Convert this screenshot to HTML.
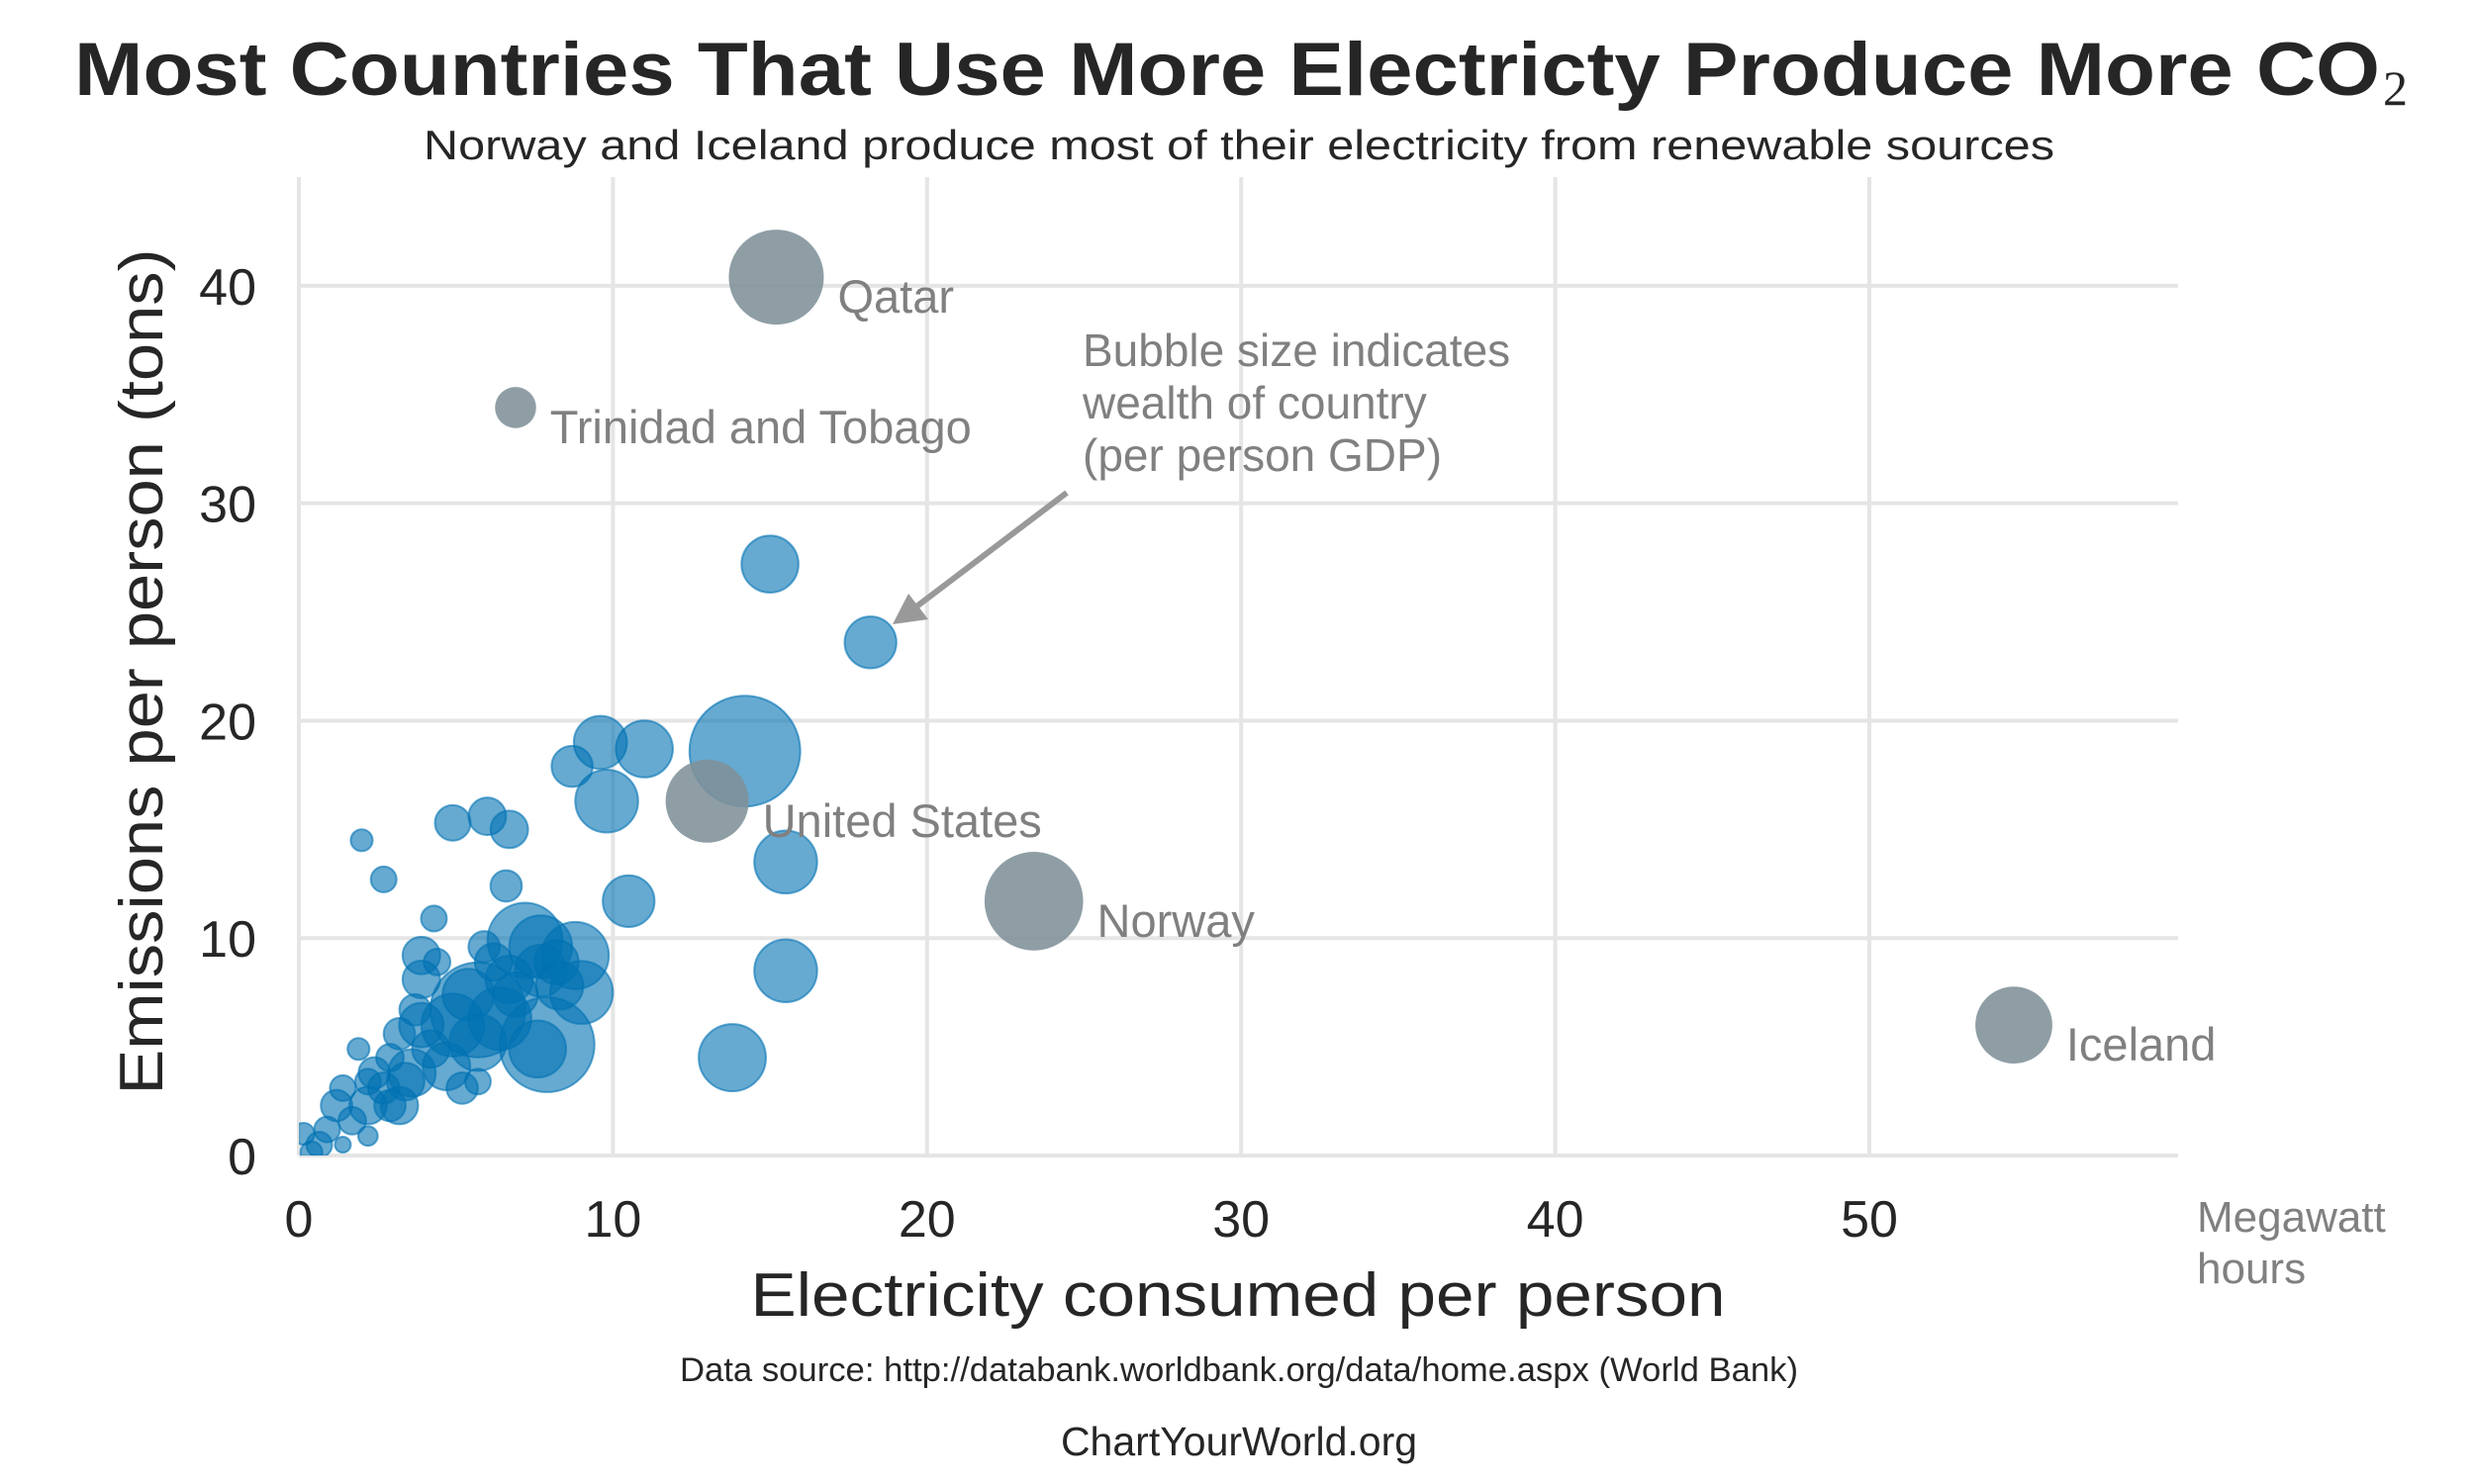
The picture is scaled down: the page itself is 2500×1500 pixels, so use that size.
<!DOCTYPE html>
<html><head><meta charset="utf-8">
<style>
html,body{margin:0;padding:0;background:#fff;}
svg{display:block;font-family:"Liberation Sans",Arial,sans-serif;}
</style></head>
<body>
<svg id="chart" width="2500" height="1500" viewBox="0 0 2500 1500" xmlns="http://www.w3.org/2000/svg">
<text x="75" y="96" font-size="76" font-weight="bold" fill="#262626" textLength="2330" lengthAdjust="spacingAndGlyphs">Most Countries That Use More Electricty Produce More CO</text>
<text x="2408" y="106" font-size="50" fill="#262626" font-family="Liberation Serif, serif">2</text>
<text x="428" y="161" font-size="42" fill="#262626" textLength="1648" lengthAdjust="spacingAndGlyphs">Norway and Iceland produce most of their electricity from renewable sources</text>
<g id="grid"></g>
<g id="ticks"></g>
<g id="bubbles"></g>
<g id="labels"></g>
<text x="1251" y="1330" font-size="62" fill="#262626" text-anchor="middle" textLength="985" lengthAdjust="spacingAndGlyphs">Electricity consumed per person</text>
<text transform="translate(164,679) rotate(-90)" font-size="62" fill="#262626" text-anchor="middle" textLength="855" lengthAdjust="spacingAndGlyphs">Emissions per person (tons)</text>
<text font-size="44" fill="#808080"><tspan x="2220" y="1245">Megawatt</tspan><tspan x="2220" y="1297">hours</tspan></text>
<g>
<text font-size="46" fill="#808080"><tspan x="1094" y="370">Bubble size indicates</tspan><tspan x="1094" y="423">wealth of country</tspan><tspan x="1094" y="476">(per person GDP)</tspan></text>
<line x1="1078" y1="498" x2="925" y2="614" stroke="#999" stroke-width="6"/>
<polygon points="902,631 918,600 938,626" fill="#999"/>
</g>
<text x="1252" y="1396" font-size="34" fill="#262626" text-anchor="middle" textLength="1130" lengthAdjust="spacingAndGlyphs">Data source: http://databank.worldbank.org/data/home.aspx (World Bank)</text>
<text x="1252" y="1471" font-size="41" fill="#262626" text-anchor="middle">ChartYourWorld.org</text>
</svg>
<script>
const elec = [15.0,18.2,14.2,9.6,11.0,8.7,9.8,4.9,6.0,6.7,2.0,2.7,6.6,10.5,15.5,15.5,13.8,8.8,7.2,9.0,7.9,7.6,5.7,7.7,
6.2,6.7,5.7,4.9,4.2,5.2,3.7,3.9,4.4,3.6,3.2,2.7,2.2,1.9,1.4,1.2,0.9,0.65,0.4,0.15,1.7,2.4,2.9,3.2,3.4,4.7,5.4,6.4,6.9,7.7,8.2,8.3,5.9,3.9,5.7,2.2,1.4,2.2,2.9,4.3,3.9];
const co2 = [27.2,23.6,18.6,19.0,18.7,17.9,16.3,15.3,15.6,15.0,14.5,12.7,12.4,11.7,13.5,8.5,4.5,9.2,9.9,7.5,5.1,4.9,6.7,9.6,
8.9,8.1,5.2,6.0,4.9,3.1,6.7,8.1,8.9,3.8,2.3,3.1,2.3,4.9,3.1,2.3,1.2,0.5,0.15,1.0,1.6,3.8,4.5,5.6,3.4,4.1,7.4,6.3,7.4,8.5,8.9,7.8,9.6,6.0,3.4,0.9,0.5,3.4,2.3,10.9,9.2];
const gdp = [23,19,87,20,23,12,28,9,10,10,3.4,4.7,7,19,28,28,32,32,40,28,64,23,64,28,
10,16,23,28,10,7,7,10,5,16,10,7,10,3.4,4.7,7,4.7,4.7,3.4,3.4,5.4,7,5.4,7,10,16,19,28,14,19,14,16,7,14,4.7,2.7,1.8,4.7,7,4.7,10];
const hlNames = ["Qatar","Trinidad and Tobago","United States","Norway","Iceland"];
const hlElec = [15.2,6.9,13.0,23.4,54.6];
const hlCo2 = [40.4,34.4,16.3,11.7,6.0];
const hlGdp = [64,12,49,69,42];
const xTicks = [0,10,20,30,40,50];
const yTicks = [0,10,20,30,40];

const X0=302, X1=2201, XMAX=59.83, Y0=1168, Y1=179, YMAX=45;
const sx = v => X0 + v/XMAX*(X1-X0);
const sy = v => Y0 - v/YMAX*(Y0-Y1);
const sr = g => 6*Math.sqrt(g);
const NS="http://www.w3.org/2000/svg";
function mk(tag, parent){const e=document.createElementNS(NS,tag);parent.appendChild(e);return e;}
const grid=document.getElementById('grid'), ticks=document.getElementById('ticks'),
      bub=document.getElementById('bubbles'), lab=document.getElementById('labels');
xTicks.forEach(t=>{
  const l=mk('line',grid);
  
  
  l.setAttribute('x1',sx(t));l.setAttribute('x2',sx(t));l.setAttribute('y1',Y1);l.setAttribute('y2',Y0);
  l.setAttribute('stroke','#e5e5e5');l.setAttribute('stroke-width','4');
  const tx=mk('text',ticks);
  
  
  tx.setAttribute('x',sx(t));tx.setAttribute('y',1250);tx.setAttribute('font-size','52');
  tx.setAttribute('fill','#262626');tx.setAttribute('text-anchor','middle');tx.textContent=t;
});
yTicks.forEach(t=>{
  const l=mk('line',grid);
  
  
  l.setAttribute('x1',X0);l.setAttribute('x2',X1);l.setAttribute('y1',sy(t));l.setAttribute('y2',sy(t));
  l.setAttribute('stroke','#e5e5e5');l.setAttribute('stroke-width','4');
  const tx=mk('text',ticks);
  
  
  tx.setAttribute('x',259);tx.setAttribute('y',sy(t)+19);tx.setAttribute('font-size','52');
  tx.setAttribute('fill','#262626');tx.setAttribute('text-anchor','end');tx.textContent=t;
});
const clip=mk('clipPath',document.getElementById('chart'));clip.id='pc';
const cr=mk('rect',clip);cr.setAttribute('x',X0);cr.setAttribute('y',0);cr.setAttribute('width',X1-X0+60);cr.setAttribute('height',Y0);
bub.setAttribute('clip-path','url(#pc)');
elec.forEach((v,i)=>{
  const c=mk('circle',bub);
  
  
  c.setAttribute('cx',sx(v));c.setAttribute('cy',sy(co2[i]));c.setAttribute('r',sr(gdp[i]));
  c.setAttribute('fill','rgba(0,114,178,0.6)');c.setAttribute('stroke','rgba(0,114,178,0.6)');c.setAttribute('stroke-width','2');
});
hlNames.forEach((n,i)=>{
  const c=mk('circle',bub);
  
  
  c.setAttribute('cx',sx(hlElec[i]));c.setAttribute('cy',sy(hlCo2[i]));c.setAttribute('r',sr(hlGdp[i]));
  c.setAttribute('fill','rgba(128,145,153,0.88)');
  const t=mk('text',lab);
  
  
  t.setAttribute('x',sx(hlElec[i])+sr(hlGdp[i])+14);t.setAttribute('y',sy(hlCo2[i])+36);
  t.setAttribute('font-size','47');t.setAttribute('fill','#808080');t.textContent=n;
});
</script>
</body></html>
